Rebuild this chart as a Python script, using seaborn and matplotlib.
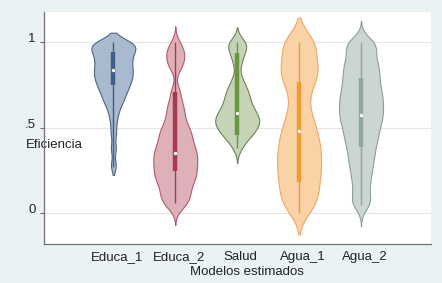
import numpy as np
import pandas as pd
import matplotlib
matplotlib.use("Agg")
import matplotlib.pyplot as plt
import matplotlib.transforms as mtransforms
import seaborn as sns

# ---- data -------------------------------------------------------------
modelos = ["Educa_1", "Educa_2", "Salud", "Agua_1", "Agua_2"]

educa_1 = [0.28, 0.38, 0.47, 0.54, 0.59, 0.625, 0.648, 0.668, 0.686, 0.702,
           0.717, 0.731, 0.744, 0.756, 0.768, 0.779, 0.79, 0.80, 0.81, 0.82,
           0.83, 0.84, 0.851, 0.862, 0.873, 0.884, 0.895, 0.906, 0.917, 0.928,
           0.938, 0.948, 0.957, 0.966, 0.975, 0.984, 0.992, 1.0, 1.0, 1.0]
educa_2 = [0.035, 0.06, 0.081, 0.101, 0.121, 0.141, 0.161, 0.181, 0.195, 0.209,
           0.223, 0.238, 0.252, 0.266, 0.28, 0.294, 0.308, 0.322, 0.335, 0.349,
           0.363, 0.377, 0.39, 0.409, 0.427, 0.445, 0.463, 0.481, 0.499, 0.523,
           0.555, 0.587, 0.62, 0.66, 0.72, 0.85, 0.89, 0.92, 0.95, 0.99]
salud = [0.38, 0.415, 0.435, 0.45, 0.462, 0.473, 0.484, 0.494, 0.503, 0.512,
         0.52, 0.528, 0.536, 0.544, 0.552, 0.56, 0.568, 0.577, 0.586, 0.596,
         0.607, 0.619, 0.632, 0.646, 0.66, 0.675, 0.69, 0.705, 0.722, 0.74,
         0.764, 0.80, 0.87, 0.91, 0.94, 0.962, 0.984, 1.0, 1.0]
agua_1 = [0.02, 0.035, 0.055, 0.08, 0.106, 0.136, 0.158, 0.18, 0.202, 0.224,
          0.246, 0.268, 0.289, 0.31, 0.331, 0.352, 0.373, 0.394, 0.415, 0.44,
          0.465, 0.49, 0.515, 0.545, 0.58, 0.625, 0.68, 0.73, 0.765, 0.79,
          0.812, 0.833, 0.853, 0.873, 0.9, 0.94, 1.0, 1.0, 1.0, 1.0]
agua_2 = [0.05, 0.07, 0.124, 0.169, 0.214, 0.25, 0.285, 0.317, 0.346, 0.375,
          0.404, 0.428, 0.45, 0.473, 0.495, 0.518, 0.536, 0.554, 0.572, 0.59,
          0.608, 0.626, 0.644, 0.662, 0.68, 0.698, 0.716, 0.737, 0.758, 0.78,
          0.801, 0.823, 0.844, 0.866, 0.887, 0.914, 0.944, 0.974, 1.0, 1.0]

# box statistics
box_q1 = [0.75, 0.245, 0.46, 0.185, 0.39]
box_med = [0.837, 0.355, 0.585, 0.483, 0.575]
box_q3 = [0.945, 0.71, 0.935, 0.77, 0.79]
box_lo = [0.27, 0.06, 0.38, 0.0, 0.05]
box_hi = [1.0, 1.0, 1.0, 1.0, 1.0]

ytick_vals = [0, 0.5, 1]
ytick_labels = ["0", ".5", "1"]

# ---- style ------------------------------------------------------------
fill_colors = ["#A9BACF", "#DDB0BA", "#C5D3B6", "#F9D2A6", "#CBD5D3"]
edge_colors = ["#4D6584", "#B25A6C", "#6F8259", "#EDA865", "#8E9E9B"]
box_colors = ["#3F5E87", "#A63A4E", "#6B9640", "#F09C33", "#8EA79F"]
bandwidths = [0.035, 0.04, 0.038, 0.072, 0.045]
cuts = [1.6, 2.6, 2.3, 2.0, 2.8]

sns.set_theme(style="white")
plt.rcParams["font.family"] = ["Liberation Sans", "DejaVu Sans"]

fig = plt.figure(figsize=(4.42, 2.83), dpi=100, facecolor="#EAF2F3")
ax = fig.add_axes([44 / 442, 39 / 283, 387 / 442, 232.3 / 283])
ax.set_facecolor("white")
ax.set_axisbelow(True)

series = [educa_1, educa_2, salud, agua_1, agua_2]
for name, vals, fc, ec, h, c in zip(modelos, series, fill_colors, edge_colors,
                                     bandwidths, cuts):
    df = pd.DataFrame({"Modelo": name, "Eficiencia": vals})
    sd = np.std(vals, ddof=1)
    sns.violinplot(data=df, x="Modelo", y="Eficiencia", order=modelos,
                   color=fc, linecolor=ec, saturation=1, inner=None,
                   density_norm="width", width=0.71, bw_method=h / sd,
                   cut=c, gridsize=200, linewidth=0.8, ax=ax)

pos = np.arange(len(modelos))
ax.vlines(pos, box_lo, box_hi, colors=box_colors, lw=1.0, zorder=3)
ax.vlines(pos, box_q1, box_q3, colors=box_colors, lw=3.2, zorder=4)
ax.scatter(pos, box_med, s=6, color="white", linewidths=0, zorder=5)

ax.set_xlim(-1.12, 5.13)
ax.set_ylim(-0.18, 1.179)
ax.set_yticks(ytick_vals)
ax.set_yticklabels(ytick_labels)
ax.yaxis.grid(True, color="#E4E4E4", lw=0.8)
ax.xaxis.grid(False)

for s in ["top", "right"]:
    ax.spines[s].set_visible(False)
for s in ["left", "bottom"]:
    ax.spines[s].set_color("#707070")
    ax.spines[s].set_linewidth(0.9)

ax.tick_params(axis="y", length=3, width=0.8, color="#707070", pad=3,
               labelsize=9.5, left=True, labelcolor="#222222")
ax.tick_params(axis="x", length=0, pad=5, labelsize=9.5, labelcolor="#222222")
for lbl in ax.get_yticklabels():
    lbl.set_va("baseline")
offset = mtransforms.ScaledTranslation(3.5 / 100, 0, fig.dpi_scale_trans)
for lbl in ax.get_xticklabels():
    lbl.set_transform(lbl.get_transform() + offset)

ax.set_xlabel("Modelos estimados", fontsize=9.5, color="#222222", va="center")
ax.xaxis.set_label_coords(0.5245, -0.119)
ax.set_ylabel("Eficiencia", fontsize=9.5, color="#222222", rotation=0,
              ha="left", va="center")
ax.yaxis.set_label_coords(-0.0465, 0.426)

fig.savefig("out.png", dpi=100, facecolor=fig.get_facecolor())
